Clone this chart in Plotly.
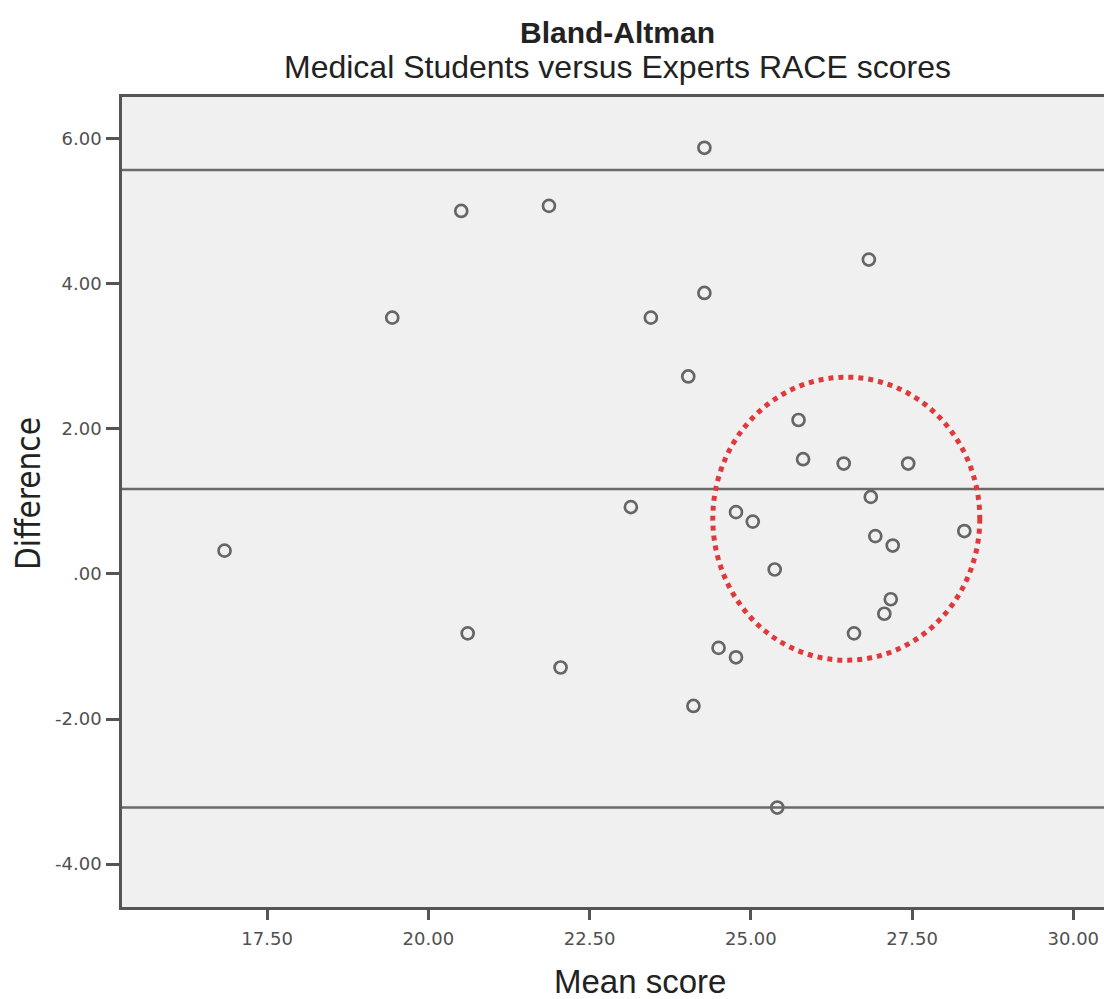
import plotly.graph_objects as go

# Data
mean_score = [16.84, 19.44, 20.51, 20.61, 21.87, 22.05, 23.14, 23.45, 24.03, 24.11,
              24.28, 24.28, 24.50, 24.77, 24.77, 25.03, 25.37, 25.41, 25.74, 25.81,
              26.44, 26.60, 26.83, 26.86, 26.93, 27.07, 27.17, 27.20, 27.44, 28.31]
difference = [0.32, 3.53, 5.00, -0.82, 5.07, -1.29, 0.92, 3.53, 2.72, -1.82,
              5.87, 3.87, -1.02, 0.85, -1.15, 0.72, 0.06, -3.22, 2.12, 1.58,
              1.52, -0.82, 4.33, 1.06, 0.52, -0.55, -0.35, 0.39, 1.52, 0.59]
mean_diff = 1.17
upper_loa = 5.565
lower_loa = -3.22
x_ticks = [17.5, 20.0, 22.5, 25.0, 27.5, 30.0]
x_ticktext = ["17.50", "20.00", "22.50", "25.00", "27.50", "30.00"]
y_ticks = [-4, -2, 0, 2, 4, 6]
y_ticktext = ["-4.00", "-2.00", ".00", "2.00", "4.00", "6.00"]
highlight_x = [24.41, 28.55]
highlight_y = [-1.19, 2.71]

x_range = [15.25, 30.6]
y_range = [-4.59, 6.57]

tick_font = dict(size=18, color="#505050", family="DejaVu Sans, sans-serif")

fig = go.Figure()
fig.add_trace(go.Scatter(
    x=mean_score, y=difference, mode="markers",
    marker=dict(symbol="circle-open", size=12, color="#666666", line=dict(width=2.7, color="#666666")),
    showlegend=False, hoverinfo="x+y"))

for v in [upper_loa, mean_diff, lower_loa]:
    fig.add_shape(type="line", xref="x", yref="y", x0=x_range[0], x1=x_range[1], y0=v, y1=v,
                  line=dict(color="#6a6a6a", width=2.5), layer="above")

fig.add_shape(type="circle", xref="x", yref="y",
              x0=highlight_x[0], x1=highlight_x[1], y0=highlight_y[0], y1=highlight_y[1],
              line=dict(color="#e0393c", width=5, dash="dot"), layer="above")

fig.update_layout(
    width=1104, height=991,
    margin=dict(l=114, r=0, t=89, b=92),
    paper_bgcolor="white", plot_bgcolor="#f0f0f0",
    font=dict(family="Liberation Sans, Arial, sans-serif", color="#222222"),
    xaxis=dict(range=x_range, tickvals=x_ticks, ticktext=x_ticktext, showgrid=False, zeroline=False,
               showline=True, linecolor="#555555", linewidth=2.5, mirror=True,
               ticks="outside", ticklen=10, tickwidth=2.5, tickcolor="#555555",
               ticklabelstandoff=4, tickfont=tick_font),
    yaxis=dict(range=y_range, tickvals=y_ticks, ticktext=y_ticktext, showgrid=False, zeroline=False,
               showline=True, linecolor="#555555", linewidth=2.5,
               ticks="outside", ticklen=13, tickwidth=2.5, tickcolor="#555555",
               ticklabelstandoff=1, tickfont=tick_font),
    annotations=[
        dict(text="<b>Bland-Altman</b>", xref="paper", yref="paper", x=0.5, y=1.080,
             showarrow=False, font=dict(size=30, color="#222222"), xanchor="center", yanchor="middle"),
        dict(text="Medical Students versus Experts RACE scores", xref="paper", yref="paper", x=0.5, y=1.037,
             showarrow=False, font=dict(size=32, color="#222222"), xanchor="center", yanchor="middle"),
        dict(text="Mean score", xref="paper", yref="paper", x=0.523, y=-0.092,
             showarrow=False, font=dict(size=33, color="#222222"), xanchor="center", yanchor="middle"),
        dict(text="Difference", xref="paper", yref="paper", x=-0.095, y=0.511, textangle=-90,
             showarrow=False, font=dict(size=33, color="#222222", family="DejaVu Sans Condensed, Liberation Sans Narrow, sans-serif"),
             xanchor="center", yanchor="middle"),
    ],
)

fig.write_html("out.html")
